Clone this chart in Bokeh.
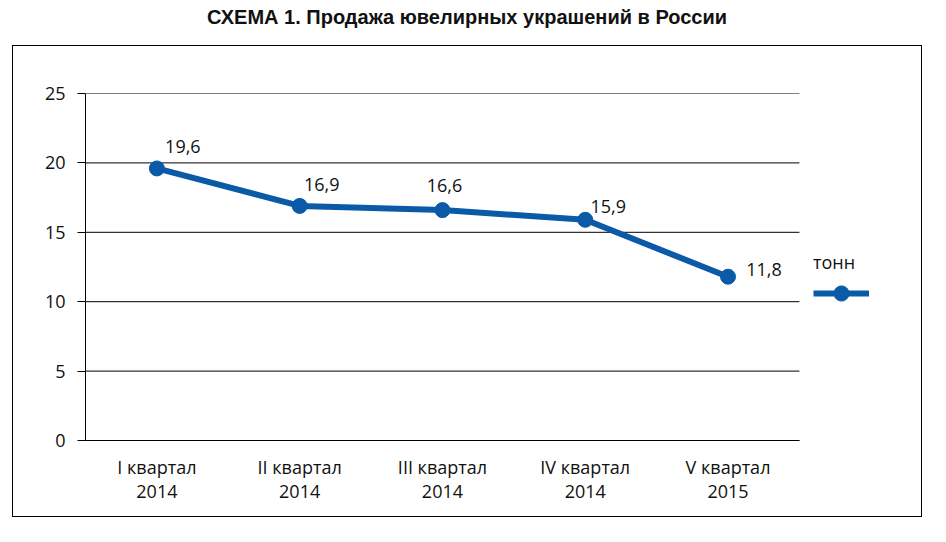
from bokeh.plotting import figure
from bokeh.layouts import column
from bokeh.models import (Range1d, ColumnDataSource, Legend, LegendItem,
                          FixedTicker, Label)
from bokeh.embed import file_html
from bokeh.resources import INLINE

# ---- data ----
categories = ["I квартал\n2014", "II квартал\n2014", "III квартал\n2014",
              "IV квартал\n2014", "V квартал\n2015"]
values = [19.6, 16.9, 16.6, 15.9, 11.8]
value_labels = ["19,6", "16,9", "16,6", "15,9", "11,8"]
y_ticks = [0, 5, 10, 15, 20, 25]
series_name = "тонн"
title_text = "СХЕМА 1.  Продажа ювелирных украшений в России"

# ---- styles ----
label_dx = [26, 22, 2, 23, 36]
label_dy = [-22, -21, -25, -13, -7]
BLUE = "#0b5aa8"
TICK_FONT = "Open Sans"

xs = list(range(len(categories)))
x_lo, x_hi = -0.5, len(categories) - 0.5      # extent of the plotting area proper

src = ColumnDataSource(dict(x=xs, y=values, lab=value_labels, dx=label_dx, dy=label_dy))
grid_src = ColumnDataSource(dict(x0=[x_lo] * len(y_ticks), x1=[x_hi] * len(y_ticks),
                                 y=y_ticks))

# ---- title strip ----
tf = figure(width=946, height=45, x_range=Range1d(0, 1), y_range=Range1d(0, 1),
            output_backend="svg", toolbar_location=None, min_border=0)
tf.axis.visible = False
tf.grid.grid_line_color = None
tf.outline_line_color = None
tf.add_layout(Label(x=0.4636, y=0.64, text=title_text, text_align="center",
                    text_baseline="middle", text_font="Liberation Sans",
                    text_font_style="bold", text_font_size="20px",
                    text_color="#111111"))

# ---- boxed chart ----
p = figure(width=910, height=472, x_range=Range1d(x_lo, 5.25),
           y_range=Range1d(0, 25), output_backend="svg", toolbar_location=None,
           min_border_left=72, min_border_right=17, min_border_top=47,
           min_border_bottom=78)
p.margin = (0, 0, 0, 12)
p.styles = {"border": "1.5px solid black"}
p.outline_line_color = None
p.background_fill_color = "white"
p.border_fill_color = "white"

p.yaxis.ticker = FixedTicker(ticks=y_ticks)
p.yaxis.major_tick_out = 8
p.yaxis.major_tick_in = 0
p.yaxis.minor_tick_line_color = None
p.yaxis.major_label_standoff = 12
p.yaxis.major_label_text_font = TICK_FONT
p.yaxis.major_label_text_font_size = "18px"
p.yaxis.major_label_text_color = "#111111"
p.yaxis.axis_line_color = "black"
p.yaxis.major_tick_line_color = "black"

p.xaxis.ticker = FixedTicker(ticks=xs)
p.xaxis.major_label_overrides = {i: c for i, c in zip(xs, categories)}
p.xaxis.bounds = (x_lo, x_hi)
p.xaxis.major_tick_line_color = None
p.xaxis.minor_tick_line_color = None
p.xaxis.axis_line_color = "black"
p.xaxis.major_label_text_font = TICK_FONT
p.xaxis.major_label_text_font_size = "18px"
p.xaxis.major_label_text_color = "#111111"
p.xaxis.major_label_standoff = 8
p.xaxis.major_label_text_line_height = 1.0

p.grid.grid_line_color = None
p.segment(x0="x0", x1="x1", y0="y", y1="y", source=grid_src,
          line_color="black", line_width=1)

line_r = p.line("x", "y", source=src, line_color=BLUE, line_width=6)
dot_r = p.scatter("x", "y", source=src, size=15, fill_color=BLUE, line_color=BLUE)
p.text("x", "y", text="lab", source=src, x_offset="dx", y_offset="dy",
       text_align="center", text_baseline="middle", text_font_size="18px",
       text_font={"value": TICK_FONT}, text_color="#111111")

legend = Legend(items=[LegendItem(label="", renderers=[line_r, dot_r])],
                title=series_name, location=(728, 128),
                glyph_width=56, glyph_height=38, border_line_color=None,
                background_fill_alpha=0, margin=0, padding=10, title_standoff=-18,
                title_text_font=TICK_FONT, title_text_font_size="18px",
                title_text_font_style="normal", title_text_color="#111111")
p.add_layout(legend)

layout = column(tf, p, spacing=0)
open("out.html", "w").write(file_html(layout, INLINE))
